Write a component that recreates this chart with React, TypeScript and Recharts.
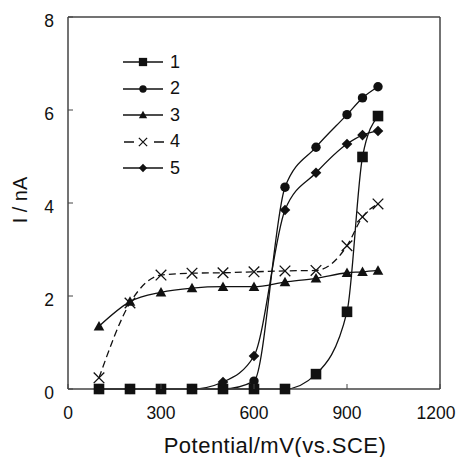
import { LineChart, Line, XAxis, YAxis, ReferenceLine, Legend } from "recharts";

const potentials = [100, 200, 300, 400, 500, 600, 700, 800, 900, 950, 1000];
const s1 = [0, 0, 0, 0, 0, 0, 0, 0.32, 1.66, 4.99, 5.87];
const s2 = [0, 0, 0, 0, 0, 0.17, 4.34, 5.2, 5.9, 6.26, 6.5];
const s3 = [1.35, 1.88, 2.08, 2.17, 2.2, 2.2, 2.3, 2.38, 2.5, 2.52, 2.55];
const s4 = [0.24, 1.85, 2.45, 2.49, 2.5, 2.52, 2.54, 2.55, 3.08, 3.7, 3.98];
const s5 = [0, 0, 0, 0, 0.15, 0.71, 3.85, 4.65, 5.27, 5.46, 5.55];
const xTicks = [0, 300, 600, 900, 1200];
const yTicks = [0, 2, 4, 6, 8];

const data = potentials.map((p, i) => ({
  p,
  s1: s1[i],
  s2: s2[i],
  s3: s3[i],
  s4: s4[i],
  s5: s5[i],
}));

const FONT = "Liberation Sans, Arial, sans-serif";
const INK = "#111";

function Marker({ shape, cx, cy, k = 1 }: { shape: string; cx: number; cy: number; k?: number }) {
  const h = 5.3 * k;
  if (shape === "square")
    return <rect x={cx - h} y={cy - h} width={2 * h} height={2 * h} fill={INK} />;
  if (shape === "circle") return <circle cx={cx} cy={cy} r={4.7 * k} fill={INK} />;
  if (shape === "triangle")
    return (
      <polygon
        points={`${cx},${cy - h} ${cx + h},${cy + h * 0.8} ${cx - h},${cy + h * 0.8}`}
        fill={INK}
      />
    );
  if (shape === "cross")
    return (
      <path
        d={`M${cx - h},${cy - h}L${cx + h},${cy + h}M${cx - h},${cy + h}L${cx + h},${cy - h}`}
        stroke={INK}
        strokeWidth={1.3}
        fill="none"
      />
    );
  return (
    <polygon
      points={`${cx},${cy - h} ${cx + h},${cy} ${cx},${cy + h} ${cx - h},${cy}`}
      fill={INK}
    />
  );
}

const makeDot = (shape: string) => (props: any) => (
  <Marker key={`${shape}-${props.index}`} shape={shape} cx={props.cx} cy={props.cy} />
);

const series = [
  { key: "s1", name: "1", shape: "square", dash: undefined },
  { key: "s2", name: "2", shape: "circle", dash: undefined },
  { key: "s3", name: "3", shape: "triangle", dash: undefined },
  { key: "s4", name: "4", shape: "cross", dash: "7 4" },
  { key: "s5", name: "5", shape: "diamond", dash: undefined },
];

const XTick = (props: any) => {
  const { x, y, payload } = props;
  // the last label sits a little inside the frame so it is not clipped
  const tx = payload.value === 1200 ? x - 4 : x;
  return (
    <g>
      <line x1={x} x2={x} y1={y} y2={y - 5} stroke="#444" />
      <text x={tx} y={y + 30} textAnchor="middle" fontSize={17.5} fill={INK} fontFamily={FONT}>
        {payload.value}
      </text>
    </g>
  );
};

const YTick = (props: any) => {
  const { x, y, payload } = props;
  return (
    <g>
      <line x1={x} x2={x + 5} y1={y} y2={y} stroke="#444" />
      <text x={x - 14} y={y + 10} textAnchor="end" fontSize={17.5} fill={INK} fontFamily={FONT}>
        {payload.value}
      </text>
    </g>
  );
};

const LegendBox = () => (
  <div style={{ fontFamily: FONT, fontSize: 18, color: INK }}>
    {series.map((s) => (
      <div key={s.key} style={{ display: "flex", alignItems: "center", height: 26.5 }}>
        <svg width={42} height={20}>
          {s.dash ? (
            <path d="M1,10H11M31,10H41" stroke={INK} strokeWidth={1.3} />
          ) : (
            <line x1={0} x2={40} y1={10} y2={10} stroke={INK} strokeWidth={1.3} />
          )}
          <Marker shape={s.shape} cx={20} cy={10} k={0.78} />
        </svg>
        <span style={{ marginLeft: 5 }}>{s.name}</span>
      </div>
    ))}
  </div>
);

export default function App() {
  return (
    <div style={{ position: "absolute", left: 0, top: 0, background: "#fff" }}>
      <LineChart
        width={457}
        height={457}
        data={data}
        margin={{ top: 17, right: 17, bottom: 0, left: 0 }}
      >
        <XAxis
          dataKey="p"
          type="number"
          domain={[0, 1200]}
          ticks={xTicks}
          tick={<XTick />}
          tickSize={0}
          tickMargin={0}
          tickLine={false}
          height={68}
          axisLine={{ stroke: "#444", strokeWidth: 1.5 }}
          label={(props: any) => {
            const vb = props.viewBox;
            return (
              <text
                x={vb.x + vb.width / 2 + 21}
                y={vb.y + 64}
                textAnchor="middle"
                fontSize={22}
                letterSpacing={0.5}
                fill={INK}
                fontFamily={FONT}
              >
                Potential/mV(vs.SCE)
              </text>
            );
          }}
        />
        <YAxis
          type="number"
          domain={[0, 8]}
          ticks={yTicks}
          tick={<YTick />}
          tickSize={0}
          tickMargin={0}
          tickLine={false}
          width={68}
          axisLine={{ stroke: "#444", strokeWidth: 1.5 }}
          label={(props: any) => {
            const vb = props.viewBox;
            const cy = vb.y + vb.height / 2 - 3;
            return (
              <text
                x={27}
                y={cy}
                textAnchor="middle"
                fontSize={20}
                fill={INK}
                fontFamily={FONT}
                transform={`rotate(-90 27 ${cy})`}
              >
                I / nA
              </text>
            );
          }}
        />
        <ReferenceLine y={8} stroke="#444" strokeWidth={1.5} />
        <ReferenceLine x={1200} stroke="#444" strokeWidth={1.5} />
        <Legend
          content={<LegendBox />}
          layout="vertical"
          align="center"
          verticalAlign="middle"
          wrapperStyle={{ left: 123, top: 49, width: 80 }}
        />
        {series.map((s) => (
          <Line
            key={s.key}
            type="monotone"
            dataKey={s.key}
            name={s.name}
            stroke={INK}
            strokeWidth={1.3}
            strokeDasharray={s.dash}
            dot={makeDot(s.shape)}
            activeDot={false}
            isAnimationActive={false}
          />
        ))}
      </LineChart>
    </div>
  );
}
